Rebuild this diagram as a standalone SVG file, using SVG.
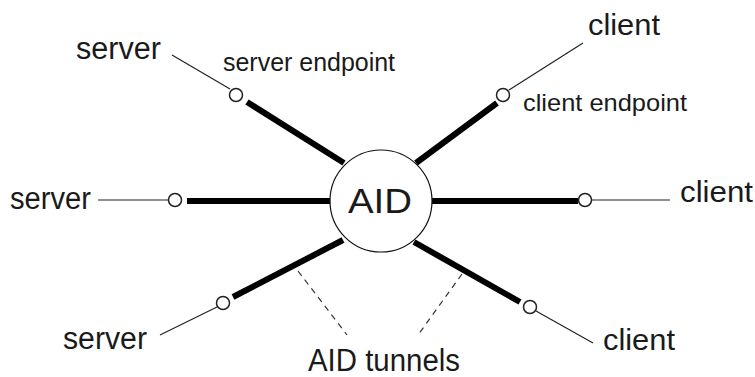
<svg xmlns="http://www.w3.org/2000/svg" width="755" height="377" viewBox="0 0 755 377">
<style>
.bg{fill:#fff}
.t{font-family:"Liberation Sans",Arial,sans-serif;fill:#1a1a1a}
.thin{stroke:#222;stroke-width:1.2;fill:none}
.thick{stroke:#000;stroke-width:6;fill:none}
.dash{stroke:#333;stroke-width:1.2;stroke-dasharray:6 5;fill:none}
.ep{fill:#fff;stroke:#222;stroke-width:1.5}
</style>
<rect class="bg" x="0" y="0" width="755" height="377"/>
<g id="connectors">
<line class="thin" x1="172" y1="55" x2="230" y2="89"/>
<line class="thick" x1="247" y1="102" x2="344" y2="163"/>
<line class="thin" x1="98" y1="200" x2="168" y2="200"/>
<line class="thick" x1="187" y1="201" x2="331" y2="201"/>
<line class="thin" x1="160" y1="335" x2="217" y2="307"/>
<line class="thick" x1="233" y1="297" x2="343" y2="240"/>
<line class="thin" x1="583" y1="43" x2="509" y2="90"/>
<line class="thick" x1="497" y1="103" x2="416" y2="163"/>
<line class="thick" x1="431" y1="201" x2="578" y2="201"/>
<line class="thin" x1="592" y1="200" x2="670" y2="200"/>
<line class="thick" x1="414" y1="242" x2="520" y2="302"/>
<line class="thin" x1="536" y1="311" x2="593" y2="343"/>
<line class="dash" x1="298" y1="271" x2="347" y2="335"/>
<line class="dash" x1="462" y1="274" x2="418" y2="335"/>
</g>
<g id="aid">
<circle cx="381" cy="201" r="51" fill="#fff" stroke="#111" stroke-width="1.2"/>
<text class="t" x="348" y="213" font-size="35" textLength="64" lengthAdjust="spacingAndGlyphs">AID</text>
</g>
<g id="endpoint-server-1"><circle class="ep" cx="236" cy="95" r="6.5"/></g>
<g id="endpoint-server-2"><circle class="ep" cx="175" cy="200" r="6.5"/></g>
<g id="endpoint-server-3"><circle class="ep" cx="223" cy="303" r="6.5"/></g>
<g id="endpoint-client-1"><circle class="ep" cx="503" cy="95" r="6.5"/></g>
<g id="endpoint-client-2"><circle class="ep" cx="585" cy="200" r="6.5"/></g>
<g id="endpoint-client-3"><circle class="ep" cx="530" cy="307" r="6.5"/></g>
<g id="server-1"><text class="t" x="76" y="59" font-size="31" textLength="85" lengthAdjust="spacingAndGlyphs">server</text></g>
<g id="server-2"><text class="t" x="10" y="209" font-size="31" textLength="81" lengthAdjust="spacingAndGlyphs">server</text></g>
<g id="server-3"><text class="t" x="63" y="349" font-size="31" textLength="84" lengthAdjust="spacingAndGlyphs">server</text></g>
<g id="client-1"><text class="t" x="588" y="35" font-size="29" textLength="72" lengthAdjust="spacingAndGlyphs">client</text></g>
<g id="client-2"><text class="t" x="680" y="202" font-size="29" textLength="73" lengthAdjust="spacingAndGlyphs">client</text></g>
<g id="client-3"><text class="t" x="603" y="350" font-size="29" textLength="72" lengthAdjust="spacingAndGlyphs">client</text></g>
<g id="label-server-endpoint"><text class="t" x="223" y="71" font-size="25" textLength="172" lengthAdjust="spacingAndGlyphs">server endpoint</text></g>
<g id="label-client-endpoint"><text class="t" x="523" y="111" font-size="24" textLength="164" lengthAdjust="spacingAndGlyphs">client endpoint</text></g>
<g id="label-aid-tunnels"><text class="t" x="308" y="371" font-size="31" textLength="152" lengthAdjust="spacingAndGlyphs">AID tunnels</text></g>
</svg>
